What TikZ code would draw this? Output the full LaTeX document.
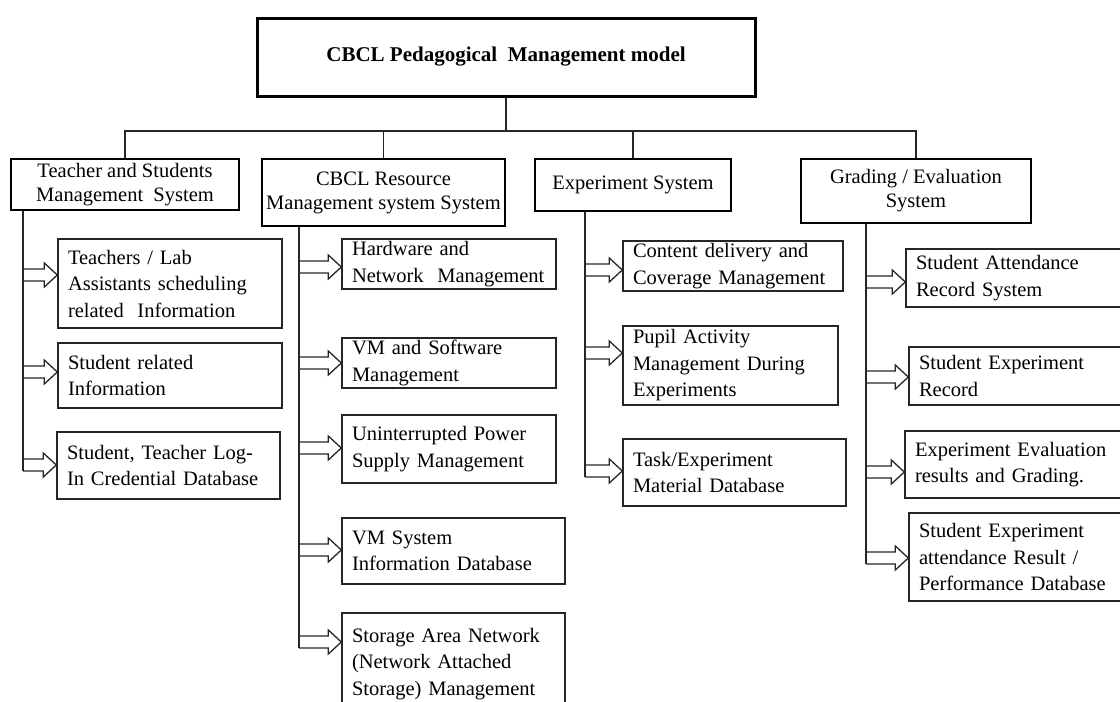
\documentclass[tikz,border=0pt]{standalone}
\usepackage{fontspec}
\setmainfont{Liberation Serif}
\usetikzlibrary{calc}
\begin{document}
\begin{tikzpicture}[x=1pt,y=-1pt,
 line/.style={draw=black!85, line width=1.3pt},
 topbox/.style={draw=black, line width=3pt, font=\fontsize{21}{25}\selectfont\bfseries, inner sep=0pt},
 headbox/.style={draw=black, line width=2.6pt, align=center, font=\fontsize{20.5}{24}\selectfont, inner sep=0pt},
 kidbox/.style={draw=black!85, line width=1.4pt, align=left, font=\fontsize{20.5}{26.5}\selectfont, inner xsep=10pt, inner ysep=0pt},
 blockarrow/.style={line, to path={let \p1=(\tikztostart), \p2=(\tikztotarget) in
   ({\x1},{\y1+6pt}) -- ({\x2-13pt},{\y1+6pt}) -- ({\x2-13pt},{\y1+12pt}) -- ({\x2},{\y1})
   -- ({\x2-13pt},{\y1-12pt}) -- ({\x2-13pt},{\y1-6pt}) -- ({\x1},{\y1-6pt})}}
]
\useasboundingbox (0,0) rectangle (1120,702);
\clip (0,0) rectangle (1120,702);

% title and headers
\node[topbox, minimum width=498pt, minimum height=78pt] (title) at (506,57) {CBCL Pedagogical\ \ Management model};
\node[headbox, minimum width=228pt, minimum height=51pt] (h1) at (125,184.5) {Teacher and Students\\Management\ \ System};
\node[headbox, minimum width=243pt, minimum height=67pt] (h2) at (383.5,192.5) {CBCL Resource\\Management system System};
\node[headbox, minimum width=196pt, minimum height=52pt] (h3) at (633,185) {Experiment System};
\node[headbox, minimum width=230pt, minimum height=64pt] (h4) at (916,191) {Grading / Evaluation\\System};

% tree connectors
\coordinate (bus) at (506,131);
\draw[line] (title.south) -- (bus);
\draw[line] (h1.north) |- (bus) -| (h4.north);
\draw[line] (h2.north) -- (h2.north |- bus);
\draw[line] (h3.north) -- (h3.north |- bus);

% column 1
\node[kidbox, minimum width=224pt, text width=204pt, minimum height=89pt] (t1) at (170,283.5) {Teachers / Lab\\Assistants scheduling\\related\ \ Information};
\node[kidbox, minimum width=224pt, text width=204pt, minimum height=65pt] (t2) at (170,375.5) {Student related\\Information};
\node[kidbox, minimum width=223pt, text width=203pt, minimum height=67pt] (t3) at (168.5,465.5) {Student, Teacher Log-\\In Credential Database};

% column 2
\node[kidbox, minimum width=214pt, text width=194pt, minimum height=50pt] (r1) at (449,264) {Hardware and\\Network\ \ Management};
\node[kidbox, minimum width=214pt, text width=194pt, minimum height=50pt] (r2) at (449,363) {VM and Software\\Management};
\node[kidbox, minimum width=214pt, text width=194pt, minimum height=68pt] (r3) at (449,449) {Uninterrupted Power\\Supply Management};
\node[kidbox, minimum width=223pt, text width=203pt, minimum height=66pt] (r4) at (453.5,551) {VM System\\Information Database};
\node[kidbox, minimum width=223pt, text width=203pt, minimum height=102pt] (r5) at (453.5,664) {Storage Area Network\\(Network Attached\\Storage) Management};

% column 3
\node[kidbox, minimum width=220pt, text width=200pt, minimum height=50pt] (e1) at (733,266) {Content delivery and\\Coverage Management};
\node[kidbox, minimum width=215pt, text width=195pt, minimum height=79pt] (e2) at (730.5,365.5) {Pupil Activity\\Management During\\Experiments};
\node[kidbox, minimum width=223pt, text width=203pt, minimum height=67pt] (e3) at (734.5,472.5) {Task/Experiment\\Material Database};

% column 4
\node[kidbox, minimum width=230pt, text width=210pt, minimum height=58pt] (g1) at (1021,278) {Student Attendance\\Record System};
\node[kidbox, minimum width=227pt, text width=207pt, minimum height=58pt] (g2) at (1022.5,376) {Student Experiment\\Record};
\node[kidbox, minimum width=231pt, text width=211pt, minimum height=67pt] (g3) at (1020.5,464.5) {Experiment Evaluation\\results and Grading.};
\node[kidbox, minimum width=227pt, text width=207pt, minimum height=88pt] (g4) at (1022.5,557) {Student Experiment\\attendance Result /\\Performance Database};

% spines
\coordinate (sp1) at (23,471);
\coordinate (sp2) at (299,648);
\coordinate (sp3) at (585,477);
\coordinate (sp4) at (866,564);
\draw[line] (h1.south -| sp1) -- (sp1);
\draw[line] (h2.south -| sp2) -- (sp2);
\draw[line] (h3.south -| sp3) -- (sp3);
\draw[line] (h4.south -| sp4) -- (sp4);

% arrow start points on spines
\coordinate (a11) at (23,275);
\coordinate (a12) at (23,372);
\coordinate (a13) at (23,465);
\coordinate (a21) at (299,267);
\coordinate (a22) at (299,363);
\coordinate (a23) at (299,448);
\coordinate (a24) at (299,550);
\coordinate (a25) at (299,642);
\coordinate (a31) at (585,270);
\coordinate (a32) at (585,353);
\coordinate (a33) at (585,471);
\coordinate (a41) at (866,282);
\coordinate (a42) at (866,377);
\coordinate (a43) at (866,472);
\coordinate (a44) at (866,558);

\draw[blockarrow] (a11) to (t1.west);
\draw[blockarrow] (a12) to (t2.west);
\draw[blockarrow] (a13) to (t3.west);
\draw[blockarrow] (a21) to (r1.west);
\draw[blockarrow] (a22) to (r2.west);
\draw[blockarrow] (a23) to (r3.west);
\draw[blockarrow] (a24) to (r4.west);
\draw[blockarrow] (a25) to (r5.west);
\draw[blockarrow] (a31) to (e1.west);
\draw[blockarrow] (a32) to (e2.west);
\draw[blockarrow] (a33) to (e3.west);
\draw[blockarrow] (a41) to (g1.west);
\draw[blockarrow] (a42) to (g2.west);
\draw[blockarrow] (a43) to (g3.west);
\draw[blockarrow] (a44) to (g4.west);
\end{tikzpicture}
\end{document}
